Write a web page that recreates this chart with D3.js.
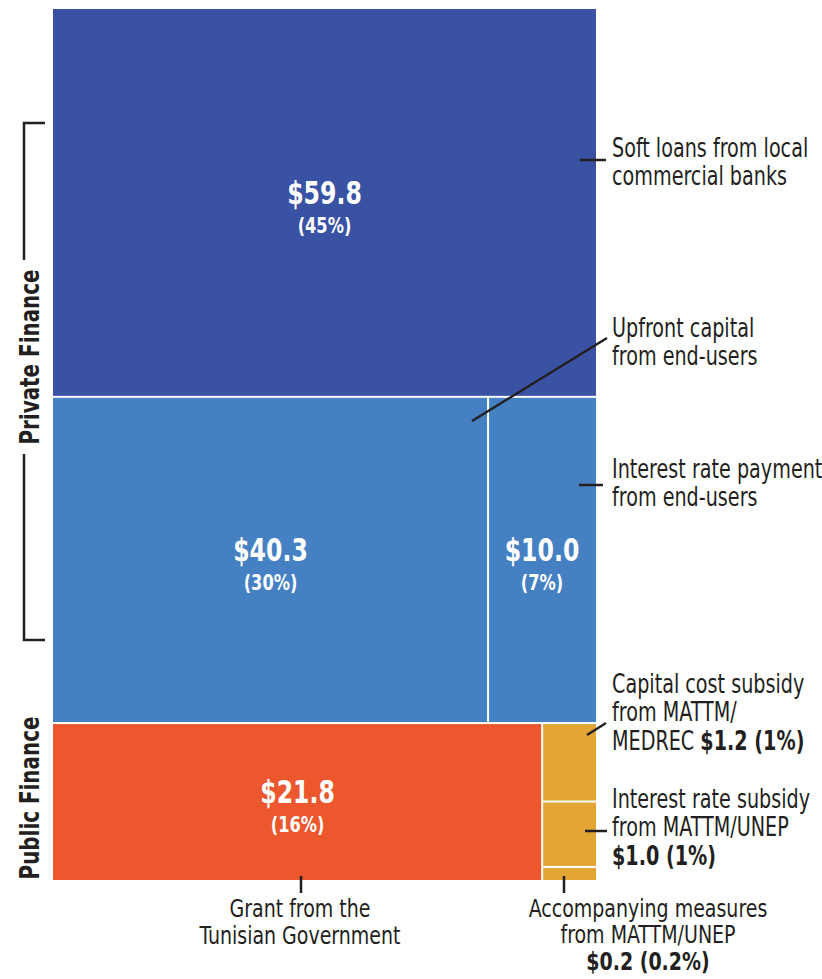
<!DOCTYPE html>
<html>
<head>
	<meta charset="utf-8">
	<script src="https://cdn.jsdelivr.net/npm/d3@7"></script>
	<style>
		body { margin: 0; background: #fff; }
		text { font-family: "DejaVu Sans", sans-serif; font-stretch: condensed; }
		.val { fill: #fff; font-size: 32px; font-weight: bold; text-anchor: middle; }
		.pct { fill: #fff; font-size: 22px; font-weight: bold; text-anchor: middle; }
		.lab { fill: #231f20; font-size: 26px; }
		.lab.sm { font-size: 24px; }
		.lead { stroke: #231f20; stroke-width: 2.5; fill: none; }
		.group { fill: #231f20; font-size: 27px; font-weight: bold; text-anchor: middle; }
	</style>
</head>
<body>
<script>
	// values in $ million
	var row1 = [59.8];
	var row2 = [40.3, 10.0];
	var row3 = [21.8];
	var goldCol = [1.2, 1.0, 0.2];
	var pctRow1 = ["45%"];
	var pctRow2 = ["30%", "7%"];
	var pctRow3 = ["16%"];

	var width = 822, height = 979;
	var box = {left: 53, right: 596, top: 9, bottom: 880};
	var gap = 2;
	var squeeze = 0.82; // narrow the face to look like a condensed font

	var svg = d3.select("body").append("svg")
		.attr("width", width)
		.attr("height", height);

	var rowSums = [d3.sum(row1), d3.sum(row2), d3.sum(row3) + d3.sum(goldCol)];
	var total = d3.sum(rowSums);

	// vertical scale: cumulative value -> y
	var y = d3.scaleLinear().domain([0, total]).range([box.top, box.bottom]);
	var rowStart = [0, rowSums[0], rowSums[0] + rowSums[1]];

	var cells = [];
	function addRow(vals, r, colors, pcts) {
		var x = d3.scaleLinear().domain([0, rowSums[r]]).range([box.left, box.right]);
		var acc = 0;
		vals.forEach(function(v, i) {
			cells.push({v: v, pct: pcts ? pcts[i] : null, color: colors[i],
				x0: x(acc), x1: x(acc + v), y0: y(rowStart[r]), y1: y(rowStart[r] + rowSums[r])});
			acc += v;
		});
		return x;
	}
	addRow(row1, 0, ["#3a52a3"], pctRow1);
	addRow(row2, 1, ["#4581c2", "#4581c2"], pctRow2);
	var x3 = addRow(row3, 2, ["#ec572d"], pctRow3);

	// gold column stacked inside the rest of row 3
	var gx0 = x3(d3.sum(row3)), gx1 = box.right;
	var gy = d3.scaleLinear().domain([0, d3.sum(goldCol)])
		.range([y(rowStart[2]), y(total)]);
	var gacc = 0;
	goldCol.forEach(function(v) {
		cells.push({v: v, pct: null, color: "#e3a634",
			x0: gx0, x1: gx1, y0: gy(gacc), y1: gy(gacc + v)});
		gacc += v;
	});

	svg.selectAll("rect.cell")
		.data(cells)
		.enter()
		.append("rect")
		.attr("class", "cell")
		.attr("x", function(d) { return d.x0 + (d.x0 > box.left ? gap / 2 : 0); })
		.attr("y", function(d) { return d.y0 + (d.y0 > box.top ? gap / 2 : 0); })
		.attr("width", function(d) {
			return d.x1 - d.x0 - (d.x0 > box.left ? gap / 2 : 0) - (d.x1 < box.right ? gap / 2 : 0);
		})
		.attr("height", function(d) {
			return d.y1 - d.y0 - (d.y0 > box.top ? gap / 2 : 0) - (d.y1 < box.bottom - 0.5 ? gap / 2 : 0);
		})
		.attr("fill", function(d) { return d.color; });

	// value labels on big cells
	var big = cells.filter(function(d) { return d.pct; });
	var lbl = svg.selectAll("g.vl")
		.data(big)
		.enter()
		.append("g")
		.attr("class", "vl")
		.attr("transform", function(d) {
			return "translate(" + ((d.x0 + d.x1) / 2) + "," + ((d.y0 + d.y1) / 2) + ") scale(" + squeeze + ",1)";
		});
	lbl.append("text").attr("class", "val").attr("y", 1)
		.text(function(d) { return "$" + d.v.toFixed(1); });
	lbl.append("text").attr("class", "pct").attr("y", 30)
		.text(function(d) { return "(" + d.pct + ")"; });

	// annotations, one text element per line
	function lines(xp, yp, arr, anchor, step, small) {
		var sx = small ? 0.88 : squeeze;
		var g = svg.append("g")
			.attr("transform", "translate(" + xp + "," + yp + ") scale(" + sx + ",1)");
		arr.forEach(function(l, i) {
			var t = g.append("text").attr("class", small ? "lab sm" : "lab")
				.attr("y", i * (step || 28.5))
				.attr("text-anchor", anchor || "start");
			l.forEach(function(p) {
				t.append("tspan").attr("font-weight", p.b ? "bold" : null).text(p.t);
			});
		});
	}
	function P(t, b) { return {t: t, b: b}; }

	lines(612, 157, [[P("Soft loans from local")], [P("commercial banks")]]);
	lines(612, 337, [[P("Upfront capital")], [P("from end-users")]]);
	lines(612, 478, [[P("Interest rate payment")], [P("from end-users")]]);
	lines(612, 693, [[P("Capital cost subsidy")], [P("from MATTM/")], [P("MEDREC "), P("$1.2 (1%)", true)]]);
	lines(612, 808, [[P("Interest rate subsidy")], [P("from MATTM/UNEP")], [P("$1.0 (1%)", true)]]);
	lines(648, 917, [[P("Accompanying measures")], [P("from MATTM/UNEP")], [P("$0.2 (0.2%)", true)]], "middle", 26.5, true);
	lines(300, 917, [[P("Grant from the")], [P("Tunisian Government")]], "middle", 27.5, true);

	var leaders = [
		[[580, 160], [606, 160]],
		[[472, 421], [607, 338]],
		[[579, 485], [603, 485]],
		[[587, 735], [606, 723]],
		[[585, 831], [607, 831]],
		[[564, 876], [564, 893]],
		[[301, 876], [301, 893]]
	];
	svg.selectAll("path.lead")
		.data(leaders)
		.enter()
		.append("path")
		.attr("class", "lead")
		.attr("d", d3.line());

	// group brackets on the left
	svg.append("path").attr("class", "lead").attr("stroke-width", 1.5)
		.attr("d", "M45,123H24V260M24,454V640H45");
	svg.append("text").attr("class", "group")
		.attr("transform", "translate(39,357) rotate(-90) scale(" + squeeze + ",1)")
		.text("Private Finance");
	svg.append("text").attr("class", "group")
		.attr("transform", "translate(39,798) rotate(-90) scale(" + squeeze + ",1)")
		.text("Public Finance");
</script>
</body>
</html>
